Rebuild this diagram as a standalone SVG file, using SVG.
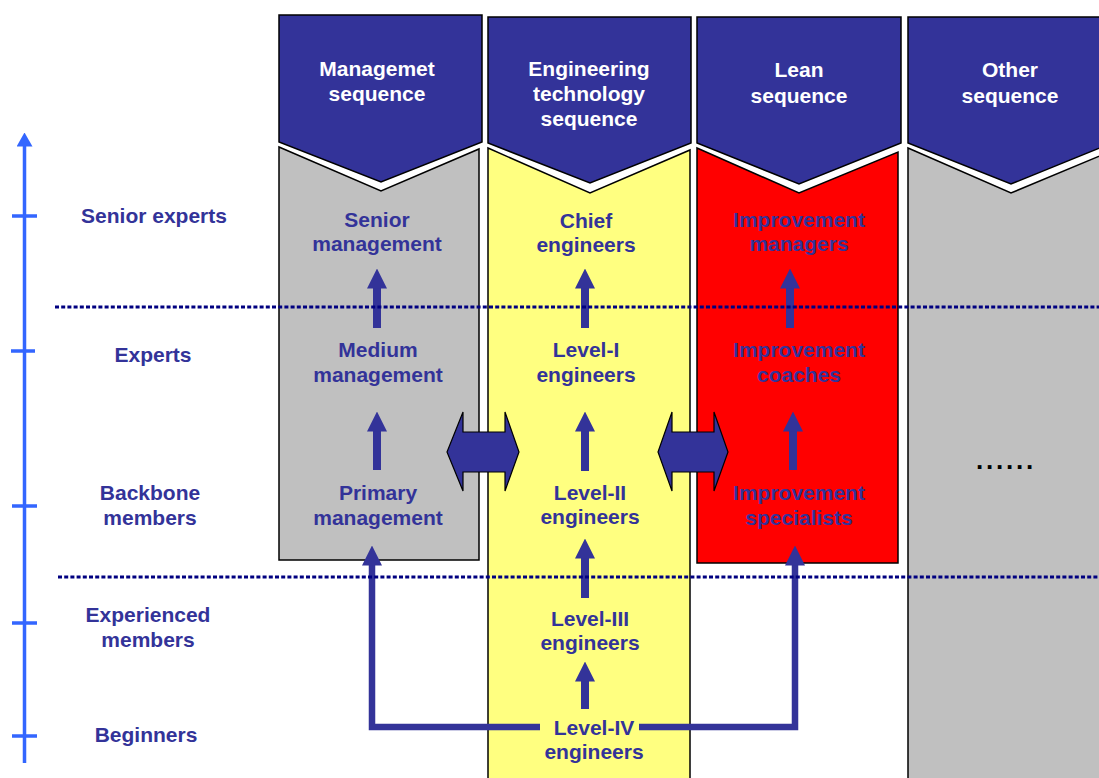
<svg xmlns="http://www.w3.org/2000/svg" width="1099" height="778" viewBox="0 0 1099 778">
<style>
text{font-family:"Liberation Sans",Arial,sans-serif;font-weight:bold;font-size:21px;text-anchor:middle}
.hd{fill:#333399;stroke:#000;stroke-width:1.5}
.ht{fill:#fff}
.lb{fill:#333399}
.body{stroke:#000;stroke-width:1.5}
.dot{stroke:#000080;stroke-width:3;stroke-dasharray:4 2.2;fill:none}
.arr{stroke:#333399;stroke-width:8;fill:none;marker-end:url(#ah)}
.con{stroke:#333399;stroke-width:6.5;fill:none;marker-end:url(#ah)}
.dbl{fill:#333399;stroke:#000;stroke-width:1.2}
.axis{stroke:#3366FF;stroke-width:3.5;fill:none}
</style>
<defs>
<marker id="ah" markerUnits="userSpaceOnUse" viewBox="0 0 20 20" markerWidth="20" markerHeight="20" refX="0.5" refY="10" orient="auto">
<path d="M0,0 L20,10 L0,20 z" fill="#333399"/>
</marker>
<marker id="axh" markerUnits="userSpaceOnUse" viewBox="0 0 14 16" markerWidth="14" markerHeight="16" refX="0.5" refY="8" orient="auto">
<path d="M0,0 L14,8 L0,16 z" fill="#3366FF"/>
</marker>
</defs>
<rect width="1099" height="778" fill="#fff"/>

<g id="axis">
<path class="axis" d="M24.5,763 V146" marker-end="url(#axh)"/>
<path class="axis" d="M12,216 H37 M11,351 H35 M12,506 H37 M12,623 H37 M12,736 H37"/>
</g>

<g id="level-labels">
<text class="lb" x="154" y="223">Senior experts</text>
<text class="lb" x="153" y="362">Experts</text>
<text class="lb" x="150" y="500">Backbone</text>
<text class="lb" x="150" y="525">members</text>
<text class="lb" x="148" y="622">Experienced</text>
<text class="lb" x="148" y="647">members</text>
<text class="lb" x="146" y="742">Beginners</text>
</g>

<g id="col-management">
<polygon class="body" fill="#C0C0C0" points="279,147 381,191 479,149 479,560 279,560"/>
<polygon class="hd" points="279,15 482,15 482,142 381,182 279,142"/>
<text class="ht" x="377" y="76">Managemet</text>
<text class="ht" x="377" y="101">sequence</text>
</g>
<g id="col-engineering">
<polygon class="body" fill="#FFFF80" points="488,148 590,193 690,150 690,790 488,790"/>
<polygon class="hd" points="488,17 691,17 691,143 590,183 488,143"/>
<text class="ht" x="589" y="76">Engineering</text>
<text class="ht" x="589" y="101">technology</text>
<text class="ht" x="589" y="126">sequence</text>
</g>
<g id="col-lean">
<polygon class="body" fill="#FF0000" points="697,148 799,193 898,152 898,563 697,563"/>
<polygon class="hd" points="697,17 901,17 901,143 799,184 697,143"/>
<text class="ht" x="799" y="77">Lean</text>
<text class="ht" x="799" y="103">sequence</text>
</g>
<g id="col-other">
<polygon class="body" fill="#C0C0C0" points="908,148 1011,193 1114,150 1114,790 908,790"/>
<polygon class="hd" points="908,17 1112,17 1112,143 1011,184 908,143"/>
<text class="ht" x="1010" y="77">Other</text>
<text class="ht" x="1010" y="103">sequence</text>
<text x="976" y="469" style="text-anchor:start;font-size:26px;letter-spacing:2.8px;fill:#000">......</text>
</g>

<g id="connectors">
<path class="arr" d="M377,328 V288"/>
<path class="arr" d="M377,470 V431"/>
<path class="arr" d="M585,328 V288"/>
<path class="arr" d="M585,471 V431"/>
<path class="arr" d="M585,598 V558"/>
<path class="arr" d="M585,709 V681"/>
<path class="arr" d="M790,328 V288"/>
<path class="arr" d="M793,470 V431"/>
<path class="con" d="M540,727 H372 V565"/>
<path class="con" d="M639,727 H795 V565"/>
<polygon class="dbl" points="447,452 463,412 463,432 505,432 505,412 519,452 505,491 505,472 463,472 463,491"/>
<polygon class="dbl" points="658,452 672,412 672,432 714,432 714,412 728,452 714,491 714,472 672,472 672,491"/>
</g>

<g id="dividers">
<path class="dot" d="M55,307 H1099"/>
<path class="dot" d="M58,577 H1099"/>
</g>

<g id="node-labels">
<text class="lb" x="377" y="227">Senior</text>
<text class="lb" x="377" y="251">management</text>
<text class="lb" x="586" y="228">Chief</text>
<text class="lb" x="586" y="252">engineers</text>
<text class="lb" x="799" y="227">Improvement</text>
<text class="lb" x="799" y="251">managers</text>
<text class="lb" x="378" y="357">Medium</text>
<text class="lb" x="378" y="382">management</text>
<text class="lb" x="586" y="357">Level-I</text>
<text class="lb" x="586" y="382">engineers</text>
<text class="lb" x="799" y="357">Improvement</text>
<text class="lb" x="799" y="382">coaches</text>
<text class="lb" x="378" y="500">Primary</text>
<text class="lb" x="378" y="525">management</text>
<text class="lb" x="590" y="500">Level-II</text>
<text class="lb" x="590" y="524">engineers</text>
<text class="lb" x="799" y="500">Improvement</text>
<text class="lb" x="799" y="525">specialists</text>
<text class="lb" x="590" y="626">Level-III</text>
<text class="lb" x="590" y="650">engineers</text>
<text class="lb" x="594" y="735">Level-IV</text>
<text class="lb" x="594" y="759">engineers</text>
</g>
</svg>
